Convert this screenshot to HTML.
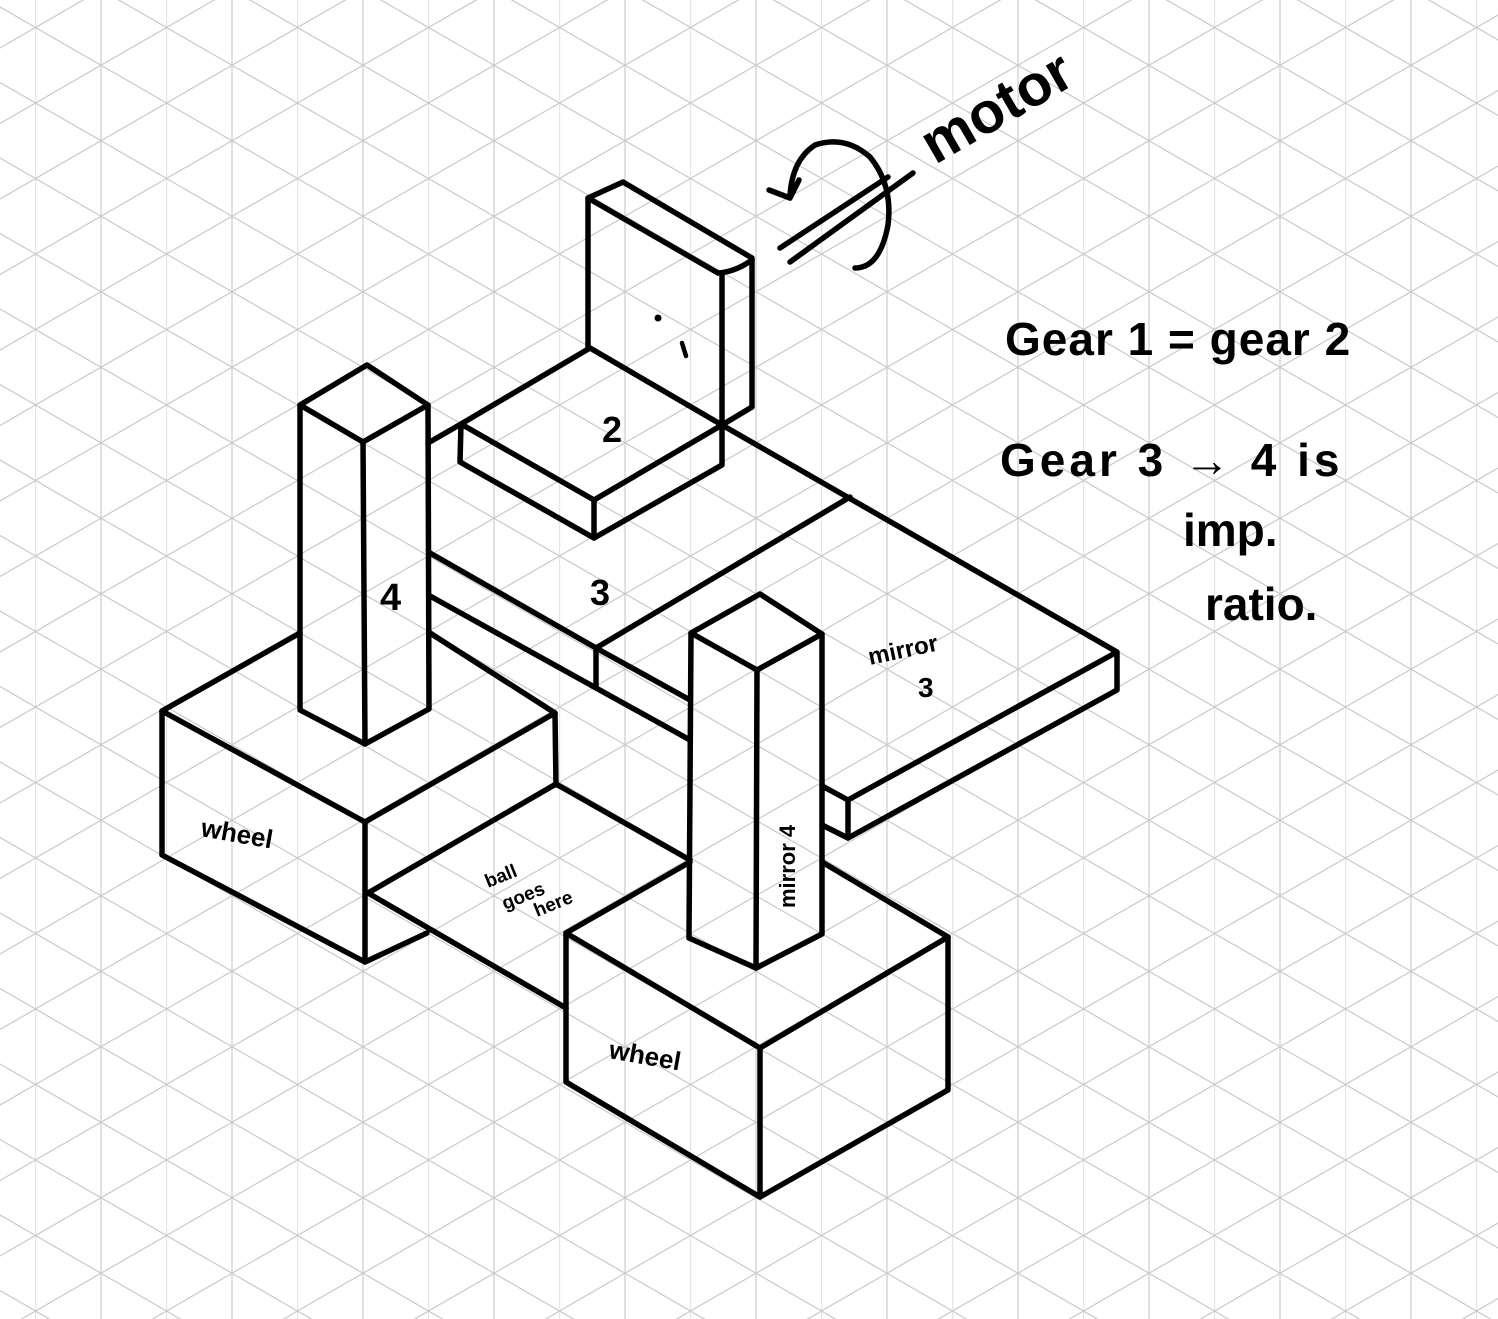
<!DOCTYPE html>
<html><head><meta charset="utf-8"><style>
html,body{margin:0;padding:0;background:#fff;}
svg{display:block;}
text{font-family:"Liberation Sans",sans-serif;fill:#000;font-weight:bold;}
</style></head><body>
<svg width="1498" height="1319" viewBox="0 0 1498 1319" xmlns="http://www.w3.org/2000/svg">
<defs>
<pattern id="g" patternUnits="userSpaceOnUse" x="35.5" y="27.5" width="131" height="75.5">
<g stroke="#cbcbcb" stroke-width="1.2" fill="none">
<line x1="0" y1="-10" x2="0" y2="90"/>
<line x1="65.5" y1="-10" x2="65.5" y2="90"/>
<line x1="0" y1="0" x2="131" y2="75.5"/>
<line x1="0" y1="-75.5" x2="131" y2="0"/>
<line x1="0" y1="75.5" x2="131" y2="151"/>
<line x1="0" y1="75.5" x2="131" y2="0"/>
<line x1="0" y1="0" x2="131" y2="-75.5"/>
<line x1="0" y1="151" x2="131" y2="75.5"/>
</g>
</pattern>
</defs>
<rect width="1498" height="1319" fill="url(#g)"/>
<g stroke="#000" stroke-width="5.5" fill="none" stroke-linecap="round" stroke-linejoin="round">
<polyline points="588,348 588,198 623,182 752,258 752,407 722,425"/>
<line x1="588" y1="198" x2="718" y2="273"/>
<path d="M718,273 Q735,272 752,260"/>
<line x1="722" y1="273" x2="722" y2="425"/>
<polygon points="590,348 461,424 594,500 722,425"/>
<polyline points="461,424 460,462 594,538 722,465 722,425"/>
<line x1="594" y1="500" x2="594" y2="538"/>
<line x1="461" y1="424" x2="428" y2="443"/>
<polyline points="722,425 1117,652 1117,690 848,838 848,800 1117,652"/>
<line x1="848" y1="800" x2="822" y2="786"/>
<line x1="848" y1="838" x2="822" y2="825"/>
<line x1="850" y1="497" x2="596" y2="648"/>
<polyline points="430,553 596,648 690,700"/>
<line x1="596" y1="648" x2="596" y2="688"/>
<line x1="430" y1="596" x2="690" y2="740"/>
<polygon points="300,405 367,365 428,405 363,442"/>
<polyline points="300,405 300,710 365,744 429,709 428,405"/>
<line x1="363" y1="442" x2="365" y2="744"/>
<polyline points="300,633 162,711 365,822 555,713 430,633"/>
<polyline points="162,711 162,855 365,962 365,822"/>
<line x1="365" y1="962" x2="427" y2="933"/>
<line x1="555" y1="713" x2="556" y2="785"/>
<line x1="556" y1="784" x2="368" y2="893"/>
<line x1="556" y1="784" x2="690" y2="860"/>
<line x1="368" y1="893" x2="566" y2="1008"/>
<polyline points="690,862 566,933 760,1048 948,937 822,862"/>
<polyline points="566,933 566,1082 760,1197 948,1090 948,937"/>
<line x1="760" y1="1048" x2="760" y2="1197"/>
<polygon points="691,633 760,594 822,634 757,670"/>
<polyline points="691,633 689,938 756,968 822,934 822,634"/>
<line x1="757" y1="670" x2="756" y2="968"/>
<line x1="780" y1="248" x2="888" y2="177"/>
<line x1="790" y1="262" x2="913" y2="173"/>
<path d="M855,268 Q880,268 888,225 Q893,185 870,157 Q845,135 815,145 Q792,160 790,196"/>
<polyline points="769,190 790,198 799,180"/>
<line x1="682" y1="343" x2="686" y2="356" stroke-width="4.5"/>
</g>
<g fill="#000">
<circle cx="658" cy="318" r="3.5"/>
<text x="602" y="442" font-size="36">2</text>
<text x="380" y="610" font-size="38">4</text>
<text x="590" y="605" font-size="36">3</text>
<text x="870" y="665" font-size="24" transform="rotate(-12 870 665)">mirror</text>
<text x="918" y="697" font-size="28">3</text>
<text x="795" y="908" font-size="22" transform="rotate(-90 795 908)">mirror 4</text>
<text x="200" y="836" font-size="26" transform="rotate(10 200 836)">wheel</text>
<text x="608" y="1058" font-size="26" transform="rotate(10 608 1058)">wheel</text>
<text x="488" y="888" font-size="19" transform="rotate(-22 488 888)">ball</text>
<text x="505" y="910" font-size="19" transform="rotate(-22 505 910)">goes</text>
<text x="537" y="917" font-size="19" transform="rotate(-22 537 917)">here</text>
<text x="935" y="165" font-size="58" transform="rotate(-30 935 165)">motor</text>
<text x="1005" y="355" font-size="46" letter-spacing="1">Gear 1 = gear 2</text>
<text x="1000" y="476" font-size="46" letter-spacing="4">Gear 3 → 4 is</text>
<text x="1183" y="546" font-size="46">imp.</text>
<text x="1205" y="620" font-size="46">ratio.</text>
</g>
</svg>
</body></html>
